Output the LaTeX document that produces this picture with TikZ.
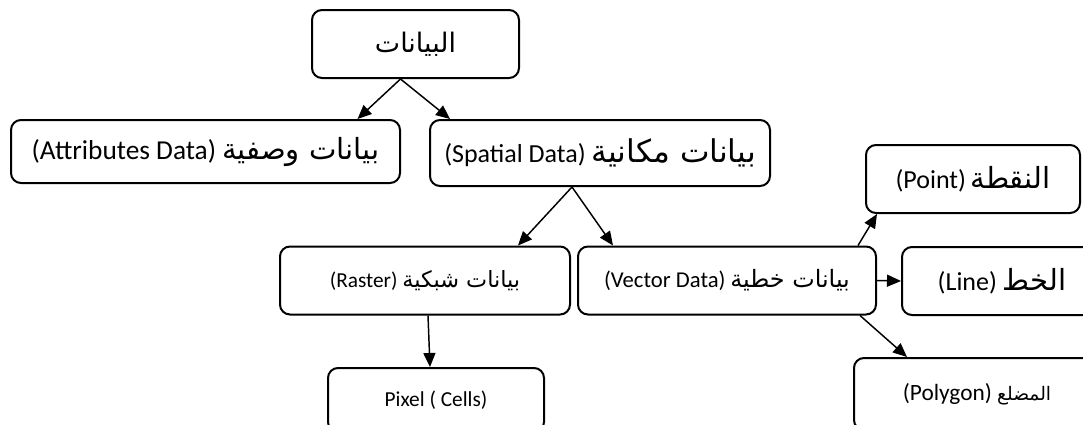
\documentclass[tikz,border=0pt]{standalone}
\usepackage{fontspec}
\usetikzlibrary{arrows.meta}
\TeXXeTstate=1
\setmainfont{Carlito}
\newfontfamily\arfont[Script=Arabic,Scale=1.12]{DejaVu Sans}
\newcommand{\ar}[1]{{\arfont\beginR #1\endR}}
\tikzset{
  box/.style={draw, line width=1.5pt, rounded corners=7.5pt, inner sep=0pt,
              align=center, text=black},
  big/.style={font=\fontsize{19.5}{23}\selectfont},
  small/.style={font=\fontsize{16}{19}\selectfont},
  link/.style={line width=1.1pt, -{Triangle[length=10.5pt,width=9pt]}}
}
\begin{document}
\begin{tikzpicture}[x=0.75pt,y=-0.75pt]
  \clip (0,0) rectangle (1083,425);
  \fill[white] (0,0) rectangle (1083,425);

  % top level
  \node[box,font=\fontsize{18}{21}\selectfont,minimum width=207*0.75pt,minimum height=68*0.75pt] (root) at (415.5,44) {\ar{البيانات}};

  % second level
  \node[box,big,minimum width=389*0.75pt,minimum height=63*0.75pt] (attr) at (205.5,151.5)
    {{\fontsize{20.5}{23}\selectfont(Attributes Data)} \ar{بيانات وصفية}};
  \node[box,big,minimum width=340*0.75pt,minimum height=66*0.75pt] (spatial) at (600,153)
    {(Spatial Data) {\fontsize{21}{23}\selectfont\ar{بيانات مكانية}}};

  % third level
  \node[box,small,minimum width=290*0.75pt,minimum height=68*0.75pt] (raster) at (425,280.5)
    {(Raster) {\fontsize{15}{18}\selectfont\ar{بيانات شبكية}}};
  \node[box,small,minimum width=298*0.75pt,minimum height=68*0.75pt] (vector) at (727,280.5)
    {{\fontsize{17}{19}\selectfont(Vector Data)} \ar{بيانات خطية}};

  % leaves
  \node[box,small,minimum width=216*0.75pt,minimum height=64*0.75pt] (pixel) at (436,400)
    {Pixel ( Cells)};
  \node[box,big,minimum width=214*0.75pt,minimum height=68*0.75pt] (point) at (973,179)
    {(Point)\,\ar{النقطة}};
  \node[box,big,minimum width=200*0.75pt,minimum height=68*0.75pt] (line) at (1002,281)
    {(Line) \ar{الخط}};
  \node[box,font=\fontsize{17.5}{20}\selectfont,minimum width=246*0.75pt,minimum height=72*0.75pt] (poly) at (977,394)
    {(Polygon) {\fontsize{12.5}{15}\selectfont\ar{المضلع}}};

  % connectors
  \draw[link] ([xshift=-15*0.75pt]root.south) -- ([xshift=152*0.75pt]attr.north);
  \draw[link] ([xshift=-15*0.75pt]root.south) -- ([xshift=-150*0.75pt]spatial.north);
  \draw[link] ([xshift=-28*0.75pt]spatial.south) -- ([xshift=93*0.75pt]raster.north);
  \draw[link] ([xshift=-28*0.75pt]spatial.south) -- ([xshift=-114*0.75pt]vector.north);
  \draw[link] ([xshift=3*0.75pt]raster.south) -- ([xshift=-6*0.75pt]pixel.north);
  \draw[link] ([xshift=131*0.75pt]vector.north) -- ([xshift=-96*0.75pt]point.south);
  \draw[link] (vector.east) -- (line.west);
  \draw[link] ([xshift=133*0.75pt]vector.south) -- ([xshift=-70*0.75pt]poly.north);
\end{tikzpicture}
\end{document}
